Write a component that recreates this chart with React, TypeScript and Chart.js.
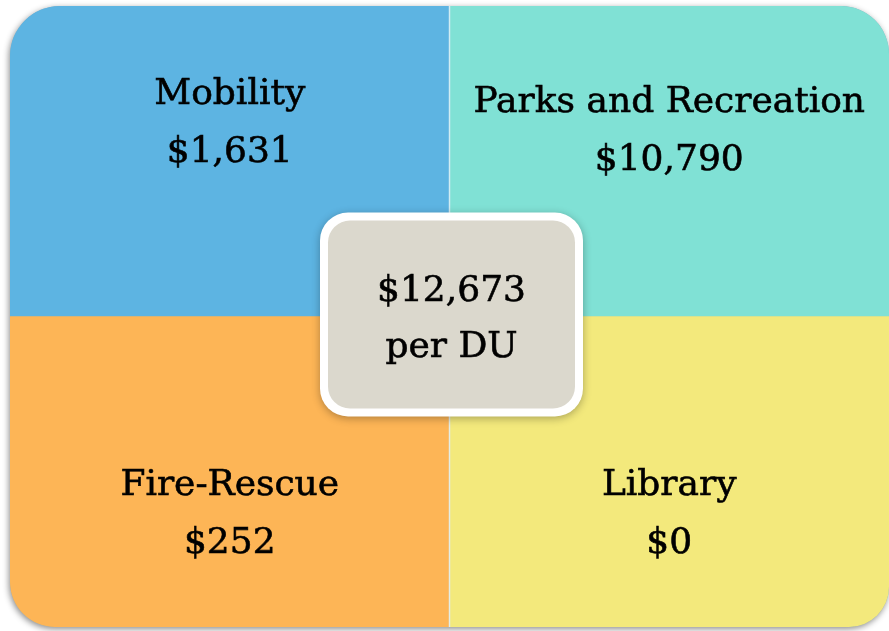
import React, { useEffect, useRef } from "react";
import { Chart, registerables } from "chart.js";

Chart.register(...registerables);

// ---- data ----
const columns = ["left", "right"];
const topCategories = ["Mobility", "Parks and Recreation"];
const topAmounts = [1631, 10790];
const bottomCategories = ["Fire-Rescue", "Library"];
const bottomAmounts = [252, 0];
const totalPerDU = 12673;
const totalUnit = "per DU";
const topColors = ["#5db4e2", "#80e1d5"];
const bottomColors = ["#fdb556", "#f3e97c"];
// equal-weight grid cells (one per quadrant)
const topCells = [1, 1];
const bottomCells = [1, 1];

const FONT = '"DejaVu Serif", "Liberation Serif", serif';
const money = (v: number) => "$" + v.toLocaleString("en-US");

function roundedPath(
  ctx: CanvasRenderingContext2D,
  x: number, y: number, w: number, h: number,
  r: { tl: number; tr: number; br: number; bl: number }
) {
  ctx.beginPath();
  ctx.moveTo(x + r.tl, y);
  ctx.lineTo(x + w - r.tr, y);
  ctx.arcTo(x + w, y, x + w, y + r.tr, r.tr);
  ctx.lineTo(x + w, y + h - r.br);
  ctx.arcTo(x + w, y + h, x + w - r.br, y + h, r.br);
  ctx.lineTo(x + r.bl, y + h);
  ctx.arcTo(x, y + h, x, y + h - r.bl, r.bl);
  ctx.lineTo(x, y + r.tl);
  ctx.arcTo(x, y, x + r.tl, y, r.tl);
  ctx.closePath();
}

const OUTER_R = { tl: 50, tr: 48, br: 40, bl: 45 };

function drawText(ctx: CanvasRenderingContext2D, s: string, x: number, y: number) {
  ctx.fillText(s, x, y);
  ctx.strokeText(s, x, y);
}

const quadPlugin = {
  id: "quadPlugin",
  beforeDatasetsDraw(chart: any) {
    const { ctx, chartArea: a } = chart;
    ctx.save();
    ctx.save();
    ctx.shadowColor = "rgba(0,0,0,0.45)";
    ctx.shadowBlur = 6;
    ctx.shadowOffsetX = -1;
    ctx.shadowOffsetY = 2;
    roundedPath(ctx, a.left, a.top, a.right - a.left, a.bottom - a.top, OUTER_R);
    ctx.fillStyle = "#8fb0c0";
    ctx.fill();
    ctx.restore();
    roundedPath(ctx, a.left, a.top, a.right - a.left, a.bottom - a.top, OUTER_R);
    ctx.clip();
  },
  afterDatasetsDraw(chart: any) {
    const { ctx, chartArea: a } = chart;
    const topMeta = chart.getDatasetMeta(1);
    const botMeta = chart.getDatasetMeta(0);
    const splitX = (topMeta.data[0].x + topMeta.data[1].x) / 2;
    ctx.strokeStyle = "rgba(225,240,248,0.85)";
    ctx.lineWidth = 1.5;
    ctx.beginPath();
    ctx.moveTo(splitX, a.top);
    ctx.lineTo(splitX, a.bottom);
    ctx.stroke();
    ctx.restore();

    ctx.save();
    ctx.fillStyle = "#000000";
    ctx.strokeStyle = "#000000";
    ctx.lineWidth = 0.6;
    ctx.textAlign = "center";
    ctx.textBaseline = "alphabetic";
    ctx.font = `36px ${FONT}`;
    const topOffsets = [98, 106];
    topMeta.data.forEach((bar: any, i: number) => {
      const top = Math.min(bar.y, bar.base);
      drawText(ctx, topCategories[i], bar.x, top + topOffsets[i]);
      drawText(ctx, money(topAmounts[i]), bar.x, top + topOffsets[i] + 58);
    });
    botMeta.data.forEach((bar: any, i: number) => {
      const bottom = Math.max(bar.y, bar.base);
      drawText(ctx, bottomCategories[i], bar.x, bottom - 132);
      drawText(ctx, money(bottomAmounts[i]), bar.x, bottom - 74);
    });

    // center box
    const cx = splitX + 2;
    const cy = topMeta.data[0].base - 2;
    const ow = 263, oh = 204;
    ctx.save();
    ctx.shadowColor = "rgba(0,0,0,0.3)";
    ctx.shadowBlur = 8;
    ctx.shadowOffsetY = 2;
    roundedPath(ctx, cx - ow / 2, cy - oh / 2, ow, oh, { tl: 28, tr: 28, br: 28, bl: 28 });
    ctx.fillStyle = "#ffffff";
    ctx.fill();
    ctx.restore();
    const iw = ow - 16, ih = oh - 16;
    roundedPath(ctx, cx - iw / 2, cy - ih / 2, iw, ih, { tl: 22, tr: 22, br: 22, bl: 22 });
    ctx.fillStyle = "#dbd8cd";
    ctx.fill();
    ctx.fillStyle = "#000000";
    drawText(ctx, money(totalPerDU), cx, cy - 14);
    drawText(ctx, totalUnit, cx, cy + 42);
    ctx.restore();
  },
};

export default function App() {
  const ref = useRef<HTMLCanvasElement | null>(null);
  useEffect(() => {
    if (!ref.current) return;
    const chart = new Chart(ref.current, {
      type: "bar",
      data: {
        labels: columns,
        datasets: [
          {
            label: "bottom",
            data: bottomCells,
            backgroundColor: bottomColors,
            borderWidth: 0,
            categoryPercentage: 1,
            barPercentage: 1,
          },
          {
            label: "top",
            data: topCells,
            backgroundColor: topColors,
            borderWidth: 0,
            categoryPercentage: 1,
            barPercentage: 1,
          },
        ],
      },
      options: {
        animation: false,
        responsive: false,
        maintainAspectRatio: false,
        layout: { padding: { left: 10, right: 0, top: 6, bottom: 4 } },
        scales: {
          x: { stacked: true, display: false },
          y: { stacked: true, display: false, min: 0, max: 2 },
        },
        plugins: { legend: { display: false }, tooltip: { enabled: false } },
      },
      plugins: [quadPlugin],
    });
    return () => chart.destroy();
  }, []);
  return (
    <div style={{ position: "fixed", left: 0, top: 0, width: 889, height: 631, background: "#ffffff" }}>
      <canvas ref={ref} width={889} height={631} style={{ display: "block" }} />
    </div>
  );
}
